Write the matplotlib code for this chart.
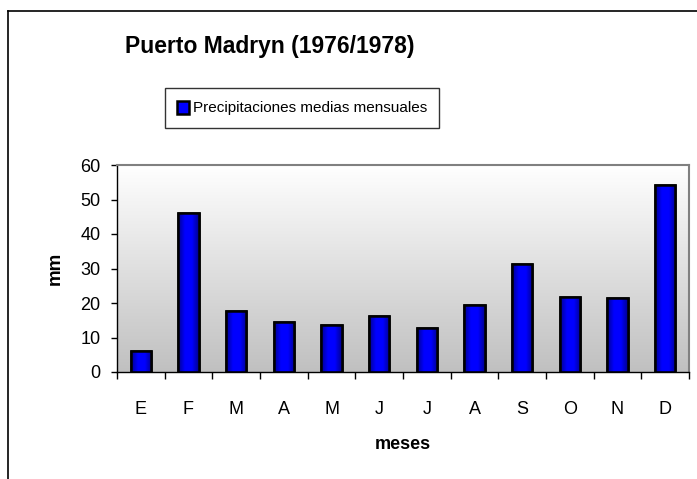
import numpy as np
import matplotlib
matplotlib.use("Agg")
import matplotlib.pyplot as plt
from matplotlib.lines import Line2D
from matplotlib.colors import LinearSegmentedColormap

plt.rcParams['font.family'] = ['Liberation Sans', 'DejaVu Sans']

meses = ["E", "F", "M", "A", "M", "J", "J", "A", "S", "O", "N", "D"]
precip = [6.1, 46.0, 17.7, 14.5, 13.5, 16.2, 12.8, 19.5, 31.3, 21.8, 21.5, 54.2]
serie = "Precipitaciones medias mensuales"
titulo = "Puerto Madryn (1976/1978)"

W, H = 697, 479
fig = plt.figure(figsize=(W / 100, H / 100), dpi=100)
ax = fig.add_axes([117 / W, 1 - 372 / H, (689 - 117) / W, (372 - 165) / H])

x = np.arange(len(meses))

# fondo con degradado blanco -> gris
bg = LinearSegmentedColormap.from_list("bg", ["#c0c0c0", "#ffffff"])
ax.imshow(np.linspace(0, 1, 256).reshape(-1, 1), cmap=bg, origin="lower",
          extent=[0, 1, 0, 1], transform=ax.transAxes, aspect="auto", zorder=0)

bars = ax.bar(x, precip, width=0.42, color="#0000ff", edgecolor="black",
              linewidth=1.8, zorder=2, label=serie)

# degradado horizontal en cada barra
barcm = LinearSegmentedColormap.from_list("bar", ["#000090", "#0000ff", "#0000ff", "#000090"])
grad = np.linspace(0, 1, 64).reshape(1, -1)
for b in bars:
    x0, y0 = b.get_x(), b.get_y()
    im = ax.imshow(grad, cmap=barcm, extent=[x0, x0 + b.get_width(), y0, y0 + b.get_height()],
                   aspect="auto", zorder=2.5)
    im.set_clip_path(b)
    ax.add_patch(plt.Rectangle((x0, y0), b.get_width(), b.get_height(), fill=False,
                               edgecolor="black", linewidth=1.8, zorder=3))
ax.set_xlim(-0.5, len(meses) - 0.5)
ax.set_ylim(0, 60)

for side in ["top", "right"]:
    ax.spines[side].set_color("#808080")
    ax.spines[side].set_linewidth(1.5)
for side in ["left", "bottom"]:
    ax.spines[side].set_color("black")
    ax.spines[side].set_linewidth(1.0)

ax.set_yticks(range(0, 61, 10))
ax.tick_params(axis="y", direction="out", length=4, width=1, pad=8, labelsize=13)
ax.set_xticks(np.arange(-0.5, len(meses), 1.0))
ax.set_xticklabels([])
ax.set_xticks(x, minor=True)
ax.set_xticklabels(meses, minor=True)
ax.tick_params(axis="x", which="major", direction="out", length=5, width=1)
ax.tick_params(axis="x", which="minor", length=0, pad=21, labelsize=13)

ax.set_ylabel("mm", fontsize=13.5, fontweight="bold", labelpad=12)
ax.set_xlabel("meses", fontsize=13, fontweight="bold", labelpad=13)

fig.text(270 / W, 1 - 47 / H, titulo, ha="center", va="center",
         fontsize=16.5, fontweight="bold")

leg = ax.legend(loc="center", bbox_to_anchor=(302 / W, 1 - 108 / H),
                bbox_transform=fig.transFigure, fontsize=11, frameon=True,
                fancybox=False, edgecolor="black", handlelength=0.75, handleheight=0.95,
                handletextpad=0.25, borderpad=0.8, borderaxespad=0)
leg.get_frame().set_linewidth(1.0)

# marco del grafico
fig.add_artist(Line2D([8 / W, 1], [1 - 11 / H, 1 - 11 / H], color="black", lw=1.2,
                      transform=fig.transFigure))
fig.add_artist(Line2D([8 / W, 8 / W], [0, 1 - 11 / H], color="black", lw=1.2,
                      transform=fig.transFigure))

fig.savefig("out.png", dpi=100)
